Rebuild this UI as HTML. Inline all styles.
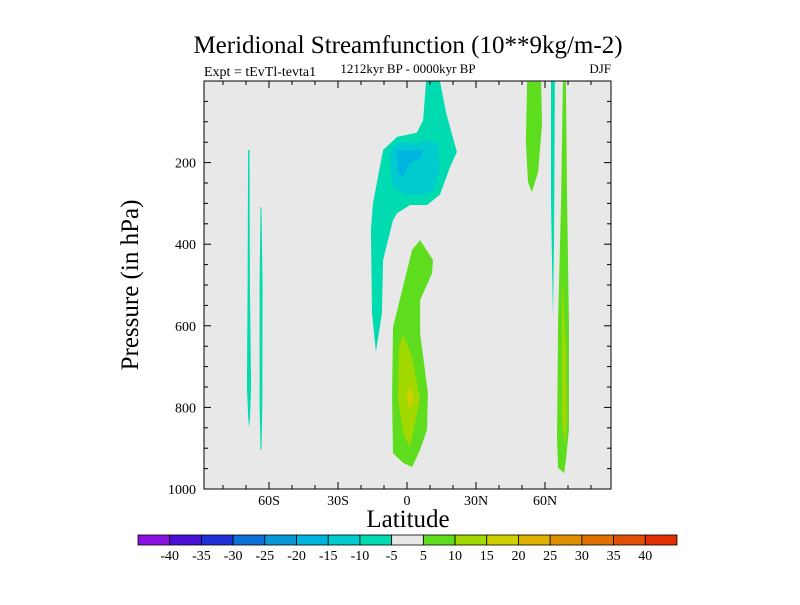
<!DOCTYPE html>
<html><head><meta charset="utf-8"><style>
body{margin:0;background:#fff;}
svg text{font-family:"Liberation Serif",serif;fill:#000;}
</style></head><body>
<svg id="c" width="800" height="600" xmlns="http://www.w3.org/2000/svg">
<text x="408" y="53" font-size="25" text-anchor="middle">Meridional Streamfunction (10**9kg/m-2)</text>
<text x="204" y="76" font-size="14">Expt = tEvTl-tevta1</text>
<text x="408" y="73" font-size="13" text-anchor="middle">1212kyr BP - 0000kyr BP</text>
<text x="611" y="73" font-size="13" text-anchor="end">DJF</text>
<rect x="204" y="81" width="407" height="408" fill="#e8e8e8"/>
<g id="marks"></g>
<rect x="204" y="81" width="407" height="408" fill="none" stroke="#000" stroke-width="1"/>
<g id="ticks"></g>
<text x="408" y="527" font-size="25" text-anchor="middle">Latitude</text>
<text transform="translate(138,285) rotate(-90)" font-size="25" text-anchor="middle">Pressure (in hPa)</text>
<g id="cbar"></g>
</svg>
<script>
const levels=[-40,-35,-30,-25,-20,-15,-10,-5,5,10,15,20,25,30,35,40];
const colors=["#8a10e0","#4a10d8","#2030d8","#0a70d8","#0898d8","#00b4e0","#00ccd0","#00dcb0","#e8e8e8","#5edc1e","#a0d800","#d0d000","#e0b000","#e09000","#e07000","#e05000","#e03000"];
const xTickVals=[-60,-30,0,30,60];
const xTickLabels=["60S","30S","0","30N","60N"];
const yTickVals=[200,400,600,800,1000];
const regCyanBig=[[8.3,0],[14.3,0],[17,78],[21.7,174],[18.7,211],[14.3,279],[8.7,304],[1.3,304],[-4.3,324],[-6.1,341],[-10.4,439],[-10.9,569],[-13.5,664],[-15.2,569],[-15.7,365],[-14.8,299],[-10.4,169],[-4.3,137],[4.3,127],[7,96]];
const regCyanMid=[[-7.4,169],[-3.9,150],[4.3,152],[8.7,145],[13.5,152],[14.3,218],[11.3,272],[5.7,279],[-0.9,279],[-6.1,260],[-7.4,218]];
const regBlue=[[-4.3,169],[7,169],[5.7,189],[1.3,201],[-1.7,235],[-3.9,225],[-4.3,194]];
const regGreen=[[5.7,390],[11.3,439],[10.9,471],[5.7,537],[5.7,618],[9.1,765],[8.7,855],[5.7,904],[2.2,946],[-1.7,936],[-6.1,912],[-6.5,775],[-6.1,603],[-3.9,554],[0.4,456],[2.2,414]];
const regLime=[[-1.7,623],[2.2,676],[5.7,781],[3.5,838],[1.3,899],[-1.7,863],[-3.9,781],[-3.5,652]];
const regYellow=[[1.3,745],[3,777],[1.3,806],[-0.4,777]];
const regNGreenBlob=[[52.2,2],[58.3,2],[58.7,108],[57,223],[54.3,272],[52.6,248],[51.7,150]];
const regNCyanLine=[[62.6,0],[64.3,0],[63.9,400],[63.5,578],[63,430],[62.6,300]];
const regNGreenLong=[[67.8,0],[69.1,0],[69.6,292],[70.4,586],[70.4,855],[69.1,929],[68.3,961],[65.7,948],[65.2,880],[65.7,586],[67,292]];
const regNLime=[[67.4,475],[69.1,659],[69.6,831],[68.7,892],[67.4,831],[67.4,659]];
const regSLine1=[[-69.1,169],[-68.5,169],[-68.3,500],[-67.8,750],[-68.3,830],[-68.7,850],[-69.1,820],[-69.6,750],[-69.3,500]];
const regSLine2=[[-63.7,309],[-63.3,309],[-62.8,500],[-62.9,800],[-63.3,904],[-63.7,904],[-64.1,800],[-64.1,500]];
const regions=[[7,regCyanBig,"contour-minus5"],[6,regCyanMid,"contour-minus10"],[5,regBlue,"contour-minus15"],[9,regGreen,"contour-plus5"],[10,regLime,"contour-plus10"],[11,regYellow,"contour-plus15"],[9,regNGreenBlob,"contour-north-plus5-upper"],[7,regNCyanLine,"contour-north-minus5"],[9,regNGreenLong,"contour-north-plus5"],[10,regNLime,"contour-north-plus10"],[7,regSLine1,"contour-south-line-1"],[7,regSLine2,"contour-south-line-2"]];
const NS="http://www.w3.org/2000/svg";
const X=lat=>407+lat*2.3;
const Y=p=>81+p*0.408;
function el(t,a,parent){const e=document.createElementNS(NS,t);for(const k in a)e.setAttribute(k,a[k]);parent.appendChild(e);return e;}
const marks=document.getElementById('marks');
regions.forEach(r=>{
 const e=el('polygon',{points:r[1].map(q=>X(q[0]).toFixed(1)+','+Y(q[1]).toFixed(1)).join(' '),fill:colors[r[0]]},marks);
 
 
});
const tk=document.getElementById('ticks');
for(let lat=-80;lat<=80;lat+=10){
 const maj=lat%30===0, L=maj?7:4, x=X(lat);
 el('line',{x1:x,x2:x,y1:489,y2:489-L,stroke:'#000'},tk);
 el('line',{x1:x,x2:x,y1:81,y2:81+L,stroke:'#000'},tk);
}
for(let p=50;p<1000;p+=50){
 const maj=p%200===0, L=maj?7:4, y=Y(p);
 el('line',{x1:204,x2:204+L,y1:y,y2:y,stroke:'#000'},tk);
 el('line',{x1:611,x2:611-L,y1:y,y2:y,stroke:'#000'},tk);
}
xTickVals.forEach((v,i)=>{
 const t=el('text',{x:X(v),y:505,'font-size':14,'text-anchor':'middle'},tk);
 t.textContent=xTickLabels[i];
 
 
});
yTickVals.forEach(v=>{
 const t=el('text',{x:196,y:Y(v)+5,'font-size':14,'text-anchor':'end'},tk);
 t.textContent=v;
 
 
});
const cb=document.getElementById('cbar');
const cx0=138,cw=539/colors.length;
colors.forEach((c,i)=>{
 const r=el('rect',{x:cx0+i*cw,y:535,width:cw,height:10,fill:c,stroke:'#000','stroke-width':0.8},cb);
 
 
});
levels.forEach((v,i)=>{
 const t=el('text',{x:cx0+(i+1)*cw,y:560,'font-size':14,'text-anchor':'middle'},cb);
 t.textContent=v;
 
 
});
</script>
</body></html>
